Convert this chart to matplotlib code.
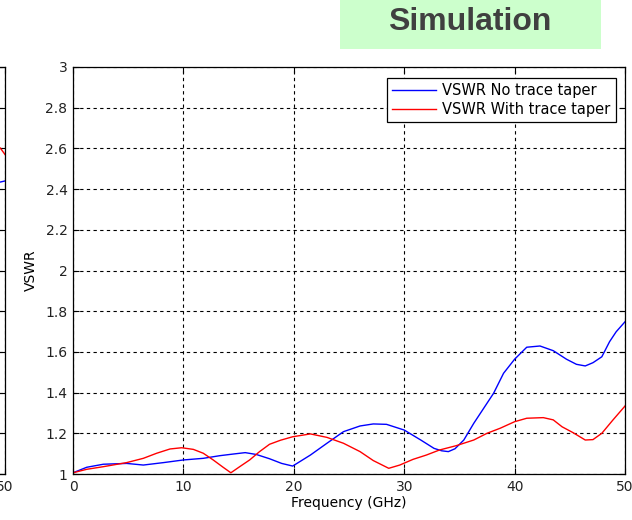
import matplotlib
matplotlib.use("Agg")
import matplotlib.pyplot as plt

plt.rcParams['font.family'] = ['DejaVu Sans']

# VSWR vs frequency (GHz)
freq_no_taper = [0, 1.24, 2.75, 4.86, 6.37, 8.2, 10.0, 11.8, 13.3, 14.5, 15.6, 16.6,
                 17.8, 18.9, 19.9, 21.5, 23.0, 24.5, 26.0, 27.2, 28.4, 30.0, 31.5,
                 32.7, 33.4, 34.0, 34.6, 35.4, 36.3, 37.2, 38.1, 39.0, 40.0, 41.1,
                 42.3, 43.5, 44.7, 45.6, 46.4, 47.1, 47.9, 48.6, 49.2, 50.0]
vswr_no_taper = [1.006, 1.033, 1.048, 1.052, 1.044, 1.056, 1.069, 1.077, 1.090, 1.098,
                 1.105, 1.096, 1.075, 1.052, 1.039, 1.093, 1.151, 1.208, 1.236, 1.246,
                 1.244, 1.216, 1.167, 1.126, 1.114, 1.110, 1.124, 1.167, 1.249, 1.323,
                 1.397, 1.495, 1.564, 1.623, 1.629, 1.606, 1.564, 1.539, 1.531, 1.547,
                 1.576, 1.650, 1.699, 1.748]

freq_taper = [0, 1.24, 2.75, 4.86, 6.37, 7.58, 8.79, 9.84, 10.9, 11.8, 12.7, 13.6,
              14.3, 15.1, 16.0, 16.9, 17.8, 18.8, 19.9, 21.5, 23.0, 24.5, 26.0, 27.2,
              28.6, 29.6, 30.8, 32.0, 33.2, 34.7, 36.3, 37.5, 38.7, 40.0, 41.1, 42.6,
              43.5, 44.3, 45.3, 46.4, 47.1, 47.9, 48.9, 50.0]
vswr_taper = [1.006, 1.023, 1.036, 1.056, 1.077, 1.102, 1.123, 1.129, 1.121, 1.102,
              1.069, 1.033, 1.006, 1.036, 1.069, 1.110, 1.146, 1.166, 1.183, 1.197,
              1.180, 1.151, 1.110, 1.066, 1.028, 1.044, 1.072, 1.093, 1.118, 1.139,
              1.167, 1.200, 1.225, 1.257, 1.274, 1.277, 1.266, 1.232, 1.203, 1.167,
              1.169, 1.200, 1.265, 1.334]

# Neighbouring panel (only its right end shows)
left_freq = [48.0, 49.0, 49.6, 50.0]
left_no_taper = [2.43, 2.43, 2.435, 2.44]
left_taper = [2.66, 2.63, 2.60, 2.57]

y_ticks = [1, 1.2, 1.4, 1.6, 1.8, 2, 2.2, 2.4, 2.6, 2.8, 3]
y_tick_labels = ['1', '1.2', '1.4', '1.6', '1.8', '2', '2.2', '2.4', '2.6', '2.8', '3']
x_ticks = [0, 10, 20, 30, 40, 50]
x_tick_labels = ['0', '10', '20', '30', '40', '50']

BLUE = '#0000ff'
RED = '#ff0000'
GRID = dict(color='black', linestyle=(0, (3, 3)), linewidth=0.8)
FS = 10

fig = plt.figure(figsize=(6.32, 5.2), dpi=100)

W, H = 632, 520
ax_left, ax_right, ax_top, ax_bot = 73, 625, 67, 474
ax_w = ax_right - ax_left
pos = [ax_left / W, 1 - ax_bot / H, ax_w / W, (ax_bot - ax_top) / H]


def style_axes(ax):
    ax.set_xlim(0, 50)
    ax.set_ylim(1, 3)
    ax.set_xticks(x_ticks)
    ax.set_yticks(y_ticks)
    ax.set_xticklabels(x_tick_labels)
    ax.set_yticklabels(y_tick_labels)
    ax.tick_params(direction='in', length=4, width=0.8, top=True, right=True,
                   labelsize=FS, colors='black', labelcolor='#222222', pad=4)
    ax.grid(True, **GRID)
    for s in ax.spines.values():
        s.set_linewidth(0.9)
        s.set_color('black')


# partial neighbouring panel on the far left
axl = fig.add_axes([(5 - ax_w) / W, pos[1], ax_w / W, pos[3]])
style_axes(axl)
axl.set_yticklabels([])
axl.set_xticklabels([''] * (len(x_ticks) - 1) + [x_tick_labels[-1]])
axl.plot(left_freq, left_no_taper, color=BLUE, lw=1.0)
axl.plot(left_freq, left_taper, color=RED, lw=1.0)

ax = fig.add_axes(pos)
style_axes(ax)
ax.plot(freq_no_taper, vswr_no_taper, color=BLUE, lw=1.0, label='VSWR No trace taper')
ax.plot(freq_taper, vswr_taper, color=RED, lw=1.0, label='VSWR With trace taper')
ax.set_xlabel('Frequency (GHz)', fontsize=FS, labelpad=2)
ax.set_ylabel('VSWR', fontsize=FS, labelpad=5)

leg = ax.legend(loc='upper right', bbox_to_anchor=(0.983, 0.973), fontsize=10.5,
                frameon=True, fancybox=False, framealpha=1, edgecolor='black',
                handlelength=3.0, handletextpad=0.45, borderpad=0.35, labelspacing=0.25,
                borderaxespad=0)
leg.get_frame().set_linewidth(0.9)

# title banner
fig.patches.append(plt.Rectangle((340 / W, 1 - 49 / H), 261 / W, 49 / H,
                                 transform=fig.transFigure, facecolor='#ccffcc',
                                 edgecolor='none', zorder=0))
fig.text(470 / W, 1 - 22 / H, 'Simulation', ha='center', va='center',
         fontsize=23, fontweight='bold', color='#404040',
         family=['Liberation Sans', 'DejaVu Sans'])

fig.savefig('out.png', dpi=100)
